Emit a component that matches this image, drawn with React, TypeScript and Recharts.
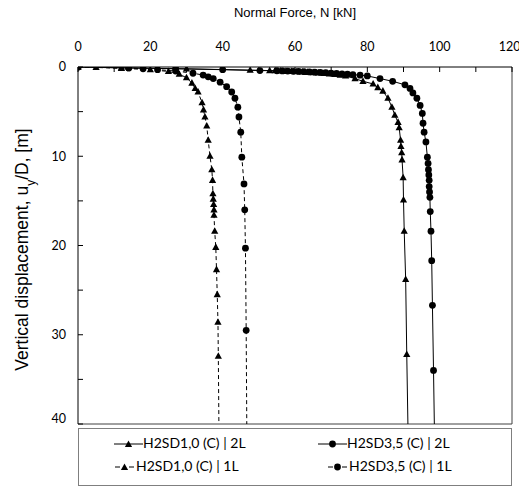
import React from 'react'
import { ScatterChart, Scatter, XAxis, YAxis, ReferenceLine, Label } from 'recharts'

// H2SD1,0 (C) | 2L  -> solid line, triangles
const sd10L2N = [0, 12, 30, 47.6, 53, 54.5, 56, 57.5, 59, 60.5, 62, 63.5, 65, 66.5, 68, 69.5, 71, 72.5, 74, 76.6, 78.8, 81.6, 82.9, 84.3, 85.7, 86.8, 87.6, 88.5, 88.8, 89.2, 89.3, 89.5, 89.6, 89.9, 90, 90.2, 90.6, 90.9, 91.3]
const sd10L2D = [0, 0.1, 0.2, 0.35, 0.4, 0.42, 0.45, 0.48, 0.5, 0.53, 0.56, 0.6, 0.63, 0.67, 0.72, 0.77, 0.83, 0.9, 1.0, 1.3, 1.6, 1.9, 2.3, 2.7, 3.5, 4.5, 5.4, 6.2, 6.8, 8.2, 8.9, 9.6, 10.4, 12.4, 14.9, 18.4, 23.8, 32.2, 42]

// H2SD3,5 (C) | 2L  -> solid line, circles
const sd35L2N = [0, 14, 27, 40, 50.3, 55, 56.5, 58, 59.5, 61, 62.5, 64, 65.5, 67, 68.5, 70, 71.5, 73, 74.5, 76, 78, 80, 83.5, 87, 90.4, 91.8, 92.6, 93.7, 94.6, 95.2, 95.4, 95.7, 96.2, 96.6, 96.8, 96.9, 97, 97.1, 97.1, 97.2, 97.3, 97.4, 97.6, 97.8, 98, 98.3, 98.6]
const sd35L2D = [0, 0.1, 0.2, 0.3, 0.4, 0.42, 0.44, 0.46, 0.48, 0.5, 0.52, 0.55, 0.58, 0.61, 0.64, 0.68, 0.72, 0.76, 0.8, 0.85, 0.92, 1.0, 1.3, 1.6, 2.0, 2.4, 2.9, 3.5, 4.3, 5.2, 6.3, 7.3, 8.4, 10.1, 10.8, 11.5, 12.1, 12.7, 13.4, 14.0, 14.6, 16.2, 18.4, 21.7, 26.7, 34, 42]

// H2SD1,0 (C) | 1L  -> dashed line, triangles
const sd10L1N = [0, 5, 12, 20, 25, 28, 30, 31.5, 32.4, 33.2, 34.3, 34.7, 35.1, 35.6, 36, 36.5, 37, 37.2, 37.3, 37.4, 37.5, 37.6, 37.6, 37.8, 38.1, 38.3, 38.5, 38.7, 38.8, 39]
const sd10L1D = [0, 0.05, 0.15, 0.3, 0.5, 0.8, 1.2, 1.8, 2.4, 2.8, 4.0, 4.8, 5.6, 6.6, 8.2, 10, 11.5, 12.7, 14.2, 14.8, 15.4, 16.0, 16.6, 18.4, 20.2, 22.7, 25.5, 28.6, 32.4, 42]

// H2SD3,5 (C) | 1L  -> dashed line, circles
const sd35L1N = [0, 14, 18, 22, 27, 31.8, 34.6, 36, 37.4, 39.3, 41.1, 42.5, 43.4, 44.2, 44.5, 45, 45.3, 45.9, 46.1, 46.3, 46.5, 46.7]
const sd35L1D = [0, 0.1, 0.2, 0.3, 0.45, 0.7, 0.9, 1.1, 1.3, 1.7, 2.2, 2.8, 3.5, 4.5, 5.6, 7.3, 10.1, 13.1, 16, 20.3, 29.5, 42]

const xTicks = [0, 10, 20, 30, 40, 50, 60, 70, 80, 90, 100, 110, 120]
const yTicks = [0, 5, 10, 15, 20, 25, 30, 35, 40]

const toPoints = (n: number[], d: number[]) => n.map((v, i) => ({ n: v, d: d[i] }))

const BODY_FONT = 'Lato, "Open Sans", sans-serif'
const TICK_FONT = { fontFamily: BODY_FONT, fontSize: 12.5, fill: '#000' }
const TITLE_FONT = '"Liberation Sans", Arial, sans-serif'

const Tri = (p: any) => {
  const { cx, cy } = p
  if (cx == null || cy == null) return null
  return <path d={`M${cx},${cy - 4}L${cx + 3.6},${cy + 2.6}L${cx - 3.6},${cy + 2.6}Z`} fill="#000" />
}

const Dot = (p: any) => {
  const { cx, cy } = p
  if (cx == null || cy == null) return null
  return <circle cx={cx} cy={cy} r={3.4} fill="#000" />
}

const XTitle = (props: any) => {
  const { viewBox } = props
  return (
    <text x={viewBox.x + viewBox.width / 2} y={17} textAnchor="middle" fontFamily={TITLE_FONT} fontSize={13} fill="#000">
      Normal Force, N [kN]
    </text>
  )
}

const YTitle = (props: any) => {
  const { viewBox } = props
  const cx = 28
  const cy = viewBox.y + viewBox.height / 2 + 4
  return (
    <text x={cx} y={cy} transform={`rotate(-90 ${cx} ${cy})`} textAnchor="middle" fontFamily={TITLE_FONT} fontSize={17.5} fill="#000">
      Vertical displacement, u<tspan baselineShift="sub" fontSize={12}>y</tspan>/D, [m]
    </text>
  )
}

const LegendSample = ({ dashed, marker }: { dashed: boolean; marker: 'tri' | 'dot' }) =>
  dashed ? (
    <svg width={22} height={12} style={{ display: 'inline-block', verticalAlign: 'middle' }}>
      <line x1={1} y1={6} x2={6} y2={6} stroke="#000" strokeWidth={1} />
      <line x1={15} y1={6} x2={20} y2={6} stroke="#000" strokeWidth={1} />
      {marker === 'tri' ? <Tri cx={10.5} cy={6.5} /> : <Dot cx={10.5} cy={6} />}
    </svg>
  ) : (
    <svg width={29} height={12} style={{ display: 'inline-block', verticalAlign: 'middle' }}>
      <line x1={0} y1={6} x2={29} y2={6} stroke="#000" strokeWidth={1} />
      {marker === 'tri' ? <Tri cx={14.5} cy={6.5} /> : <Dot cx={14.5} cy={6} />}
    </svg>
  )

const legendItems = [
  { name: 'H2SD1,0 (C) | 2L', dashed: false, marker: 'tri' as const, left: 35, top: 6 },
  { name: 'H2SD3,5 (C) | 2L', dashed: false, marker: 'dot' as const, left: 239, top: 6 },
  { name: 'H2SD1,0 (C) | 1L', dashed: true, marker: 'tri' as const, left: 35, top: 29 },
  { name: 'H2SD3,5 (C) | 1L', dashed: true, marker: 'dot' as const, left: 248, top: 29 },
]

export default function App() {
  return (
    <div style={{ position: 'absolute', left: 0, top: 0, width: 519, height: 488, background: '#fff' }}>
      <ScatterChart width={519} height={426} margin={{ top: 0, right: 7, bottom: 2, left: 0 }}>
        <XAxis
          xAxisId={0}
          orientation="top"
          type="number"
          dataKey="n"
          domain={[0, 120]}
          ticks={xTicks}
          height={67}
          tickSize={-5}
          tickMargin={21}
          tickFormatter={(v: number) => (v % 20 === 0 ? String(v) : '')}
          tick={TICK_FONT}
          axisLine={{ stroke: '#000' }}
          tickLine={{ stroke: '#000' }}
          allowDataOverflow
        >
          <Label content={<XTitle />} />
        </XAxis>
        <YAxis
          yAxisId={0}
          type="number"
          dataKey="d"
          domain={[0, 40]}
          reversed
          ticks={yTicks}
          width={78}
          tickSize={-5}
          tickMargin={17}
          tickFormatter={(v: number) => (v % 10 === 0 ? String(v) : '')}
          tick={TICK_FONT}
          axisLine={{ stroke: '#000' }}
          tickLine={{ stroke: '#000' }}
          allowDataOverflow
        >
          <Label content={<YTitle />} />
        </YAxis>
        <ReferenceLine x={120} stroke="#404040" />
        <ReferenceLine y={40} stroke="#404040" />
        <Scatter
          name="H2SD1,0 (C) | 1L"
          data={toPoints(sd10L1N, sd10L1D)}
          line={{ stroke: '#000', strokeWidth: 1, strokeDasharray: '4 3' }}
          lineType="joint"
          shape={<Tri />}
          isAnimationActive={false}
        />
        <Scatter
          name="H2SD3,5 (C) | 1L"
          data={toPoints(sd35L1N, sd35L1D)}
          line={{ stroke: '#000', strokeWidth: 1, strokeDasharray: '4 3' }}
          lineType="joint"
          shape={<Dot />}
          isAnimationActive={false}
        />
        <Scatter
          name="H2SD1,0 (C) | 2L"
          data={toPoints(sd10L2N, sd10L2D)}
          line={{ stroke: '#000', strokeWidth: 1 }}
          lineType="joint"
          shape={<Tri />}
          isAnimationActive={false}
        />
        <Scatter
          name="H2SD3,5 (C) | 2L"
          data={toPoints(sd35L2N, sd35L2D)}
          line={{ stroke: '#000', strokeWidth: 1 }}
          lineType="joint"
          shape={<Dot />}
          isAnimationActive={false}
        />
      </ScatterChart>
      <div
        style={{
          position: 'absolute',
          left: 78,
          top: 428,
          width: 434,
          height: 58,
          boxSizing: 'border-box',
          border: '1px solid #7f7f7f',
          fontFamily: BODY_FONT,
          fontSize: 14,
          color: '#000',
        }}
      >
        {legendItems.map((it) => (
          <div
            key={it.name}
            style={{ position: 'absolute', left: it.left, top: it.top, whiteSpace: 'nowrap', lineHeight: '16px' }}
          >
            <LegendSample dashed={it.dashed} marker={it.marker} />
            {it.name}
          </div>
        ))}
      </div>
    </div>
  )
}
